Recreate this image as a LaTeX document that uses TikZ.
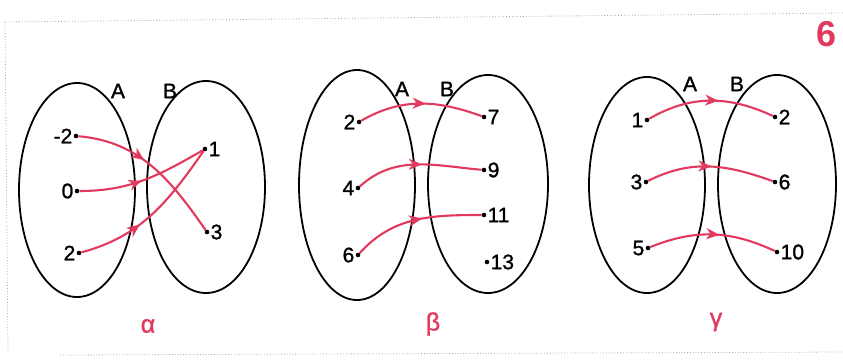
\documentclass[tikz,border=0pt]{standalone}
\usepackage{fontspec}
\setmainfont{Liberation Sans}
\newfontfamily\heavyfont[FakeBold=1.2]{Liberation Sans}
\usetikzlibrary{arrows.meta,decorations.markings}
\definecolor{pink}{RGB}{226,58,94}
\tikzset{
  setline/.style={line width=1.8pt,black},
  pt/.style={circle,fill=black,inner sep=0pt,minimum size=4.6pt},
  lbl/.style={font=\heavyfont\fontsize{21}{21}\selectfont,inner sep=1pt},
  maparrow/.style={line width=2.1pt,pink,postaction={decorate},
    decoration={markings,mark=at position #1 with {\arrow{Stealth[length=13pt,width=11pt,inset=4pt]}}}},
  greek/.style={font=\heavyfont\fontsize{25}{25}\selectfont,text=pink},
  frame/.style={gray!70,line width=0.8pt,dotted}
}
\begin{document}
\begin{tikzpicture}[x=1pt,y=-1pt]
\useasboundingbox (0,0) rectangle (843,362);
% frame dotted lines
\coordinate (f1) at (5,22);
\coordinate (f2) at (843,13);
\coordinate (f3) at (8,352);
\coordinate (f4) at (60,355);
\coordinate (f5) at (843,352);
\draw[frame] (f1) -- (f2);
\draw[frame] (f1) -- (f3);
\draw[frame] (f4) -- (f5);
\node[font=\bfseries\fontsize{36}{36}\selectfont,text=pink] (num) at (826,34) {6};

% ---------- alpha ----------
\draw[setline] (77,190) ellipse [x radius=58,y radius=107];
\draw[setline] (206,187) ellipse [x radius=59,y radius=106];
\node[lbl] (aA) at (118,91) {A};
\node[lbl] (aB) at (170,91) {B};
\node[pt,label={[lbl,label distance=0pt]left:-2}] (am2) at (76,136) {};
\node[pt,label={[lbl,label distance=0pt]left:0}] (a0) at (77,191) {};
\node[pt,label={[lbl,label distance=0pt]left:2}] (a2) at (79,253) {};
\node[pt,label={[lbl,label distance=0pt]right:1}] (b1) at (205,149) {};
\node[pt,label={[lbl,label distance=0pt]right:3}] (b3) at (207,232) {};
\draw[maparrow=0.43] (am2) to[out=-5,in=125] (b3);
\draw[maparrow=0.48] (a0) to[out=0,in=210] (b1);
\draw[maparrow=0.40] (a2) to[out=15,in=235] (b1);
\node[greek] (alpha) at (148,326) {α};

% ---------- beta ----------
\draw[setline] (357,185) ellipse [x radius=58,y radius=115];
\draw[setline] (488,184) ellipse [x radius=60,y radius=109];
\node[lbl] (bA) at (402,89) {A};
\node[lbl] (bB) at (447,89) {B};
\node[pt,label={[lbl,label distance=0pt]left:2}] (c2) at (359,122) {};
\node[pt,label={[lbl,label distance=0pt]left:4}] (c4) at (358,188) {};
\node[pt,label={[lbl,label distance=0pt]left:6}] (c6) at (358,255) {};
\node[pt,label={[lbl,label distance=0pt]right:7}] (d7) at (484,117) {};
\node[pt,label={[lbl,label distance=0pt]right:9}] (d9) at (484,170) {};
\node[pt,label={[lbl,label distance=0pt]right:11}] (d11) at (484,215) {};
\node[pt,label={[lbl,label distance=0pt]right:13}] (d13) at (487,262) {};
\draw[maparrow=0.54] (c2) to[out=30,in=160] (d7);
\draw[maparrow=0.53] (c4) to[out=42,in=175] (d9);
\draw[maparrow=0.55] (c6) to[out=48,in=180] (d11);
\node[greek] (beta) at (433,324) {β};

% ---------- gamma ----------
\draw[setline] (647,185) ellipse [x radius=58,y radius=108];
\draw[setline] (777,184) ellipse [x radius=59,y radius=109];
\node[lbl] (gA) at (690,84) {A};
\node[lbl] (gB) at (737,84) {B};
\node[pt,label={[lbl,label distance=0pt]left:1}] (e1) at (647,120) {};
\node[pt,label={[lbl,label distance=0pt]left:3}] (e3) at (646,182) {};
\node[pt,label={[lbl,label distance=0pt]left:5}] (e5) at (648,248) {};
\node[pt,label={[lbl,label distance=0pt]right:2}] (g2) at (775,117) {};
\node[pt,label={[lbl,label distance=0pt]right:6}] (g6) at (775,182) {};
\node[pt,label={[lbl,label distance=0pt]right:10}] (g10) at (777,252) {};
\draw[maparrow=0.56] (e1) to[out=30,in=155] (g2);
\draw[maparrow=0.51] (e3) to[out=27,in=160] (g6);
\draw[maparrow=0.55] (e5) to[out=22,in=155] (g10);
\node[greek] (gamma) at (716,322) {γ};
\end{tikzpicture}
\end{document}
